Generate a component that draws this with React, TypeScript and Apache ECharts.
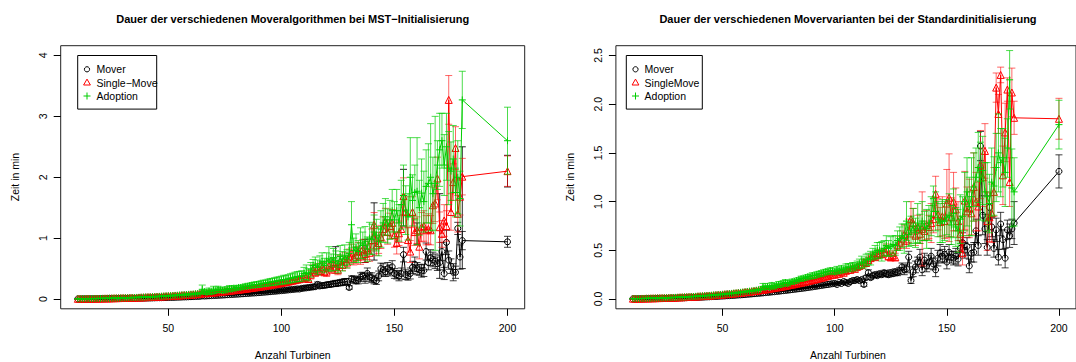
import React, { useEffect, useRef } from "react";
import * as echarts from "echarts";

// x values: number of turbines (10..180 and 200)
const TURBINES: number[] = [...Array.from({ length: 171 }, (_, i) => i + 10), 200];

// ---------- Left chart: MST-Initialisierung ----------
const L_MOVER = [
  .002,.002,.003,.003,.003,.004,.004,.004,.005,.005,
  .005,.006,.006,.007,.007,.008,.008,.009,.009,.010,
  .010,.011,.011,.012,.013,.013,.014,.015,.015,.016,
  .017,.017,.018,.019,.020,.021,.022,.023,.024,.025,
  .026,.027,.028,.029,.031,.032,.033,.035,.036,.038,
  .039,.041,.042,.044,.046,.052,.050,.052,.054,.056,
  .058,.060,.062,.064,.066,.068,.071,.073,.075,.078,
  .080,.082,.085,.087,.090,.092,.095,.098,.100,.103,
  .106,.109,.112,.115,.118,.121,.125,.128,.131,.135,
  .138,.142,.146,.150,.154,.158,.162,.166,.165,.175,
  .180,.184,.189,.194,.199,.204,.240,.215,.220,.226,
  .232,.238,.244,.250,.256,.262,.268,.275,.282,.288,
  .19,.33,.32,.30,.31,.36,.38,.34,.42,.36,
  .35,.32,.30,.38,.50,.48,.45,.50,.47,.53,
  .42,.40,.38,.42,.73,.40,.38,.42,.52,.57,
  .50,.48,.46,.47,.78,.60,.68,.65,.62,.58,
  .60,.78,.42,.93,.64,.54,.44,.44,1.16,.69,
  .96, .94,
];
const L_MOVER_ERR = [
  .001,.001,.001,.001,.001,.001,.001,.001,.001,.001,
  .001,.001,.001,.001,.001,.001,.001,.001,.001,.001,
  .002,.002,.002,.002,.002,.002,.002,.002,.002,.002,
  .002,.002,.002,.002,.002,.002,.002,.002,.002,.002,
  .003,.003,.003,.003,.003,.003,.003,.003,.003,.003,
  .004,.004,.004,.005,.005,.008,.005,.005,.006,.006,
  .006,.007,.007,.007,.008,.008,.008,.009,.009,.009,
  .010,.010,.011,.011,.012,.012,.013,.013,.014,.014,
  .015,.015,.016,.016,.017,.018,.018,.019,.020,.020,
  .021,.022,.022,.023,.024,.025,.025,.026,.027,.028,
  .03,.03,.03,.03,.035,.035,.04,.035,.04,.04,
  .04,.045,.04,.045,.05,.045,.05,.05,.055,.05,
  .03,.05,.06,.05,.06,.07,.06,.08,.09,.07,
  .08,.07,.06,.08,.09,.10,.08,.10,.09,.10,
  .08,.07,.08,.09,.12,.08,.07,.09,.10,.12,
  .10,.09,.10,.10,.14,.12,.13,.12,.12,.11,
  .12,.15,.10,.20,.15,.12,.14,.10,.10,.20,
  .15, .09,
];
// additional black error bars [x, low, high]
const L_MOVER_EXTRA: number[][] = [
  [124, 0.55, 0.86], [137, 0.6, 0.98], [141, 0.64, 1.58], [154, 1.2, 2.13],
  [160, 0.9, 1.25], [170, 0.34, 1.73], [180, 0.5, 2.5], [200, 1.84, 2.36],
];
const L_SINGLE = [
  .004,.004,.005,.005,.006,.006,.007,.007,.008,.009,
  .009,.010,.011,.011,.012,.013,.014,.015,.016,.017,
  .018,.019,.020,.021,.022,.024,.025,.026,.028,.029,
  .031,.032,.034,.036,.037,.039,.041,.043,.045,.047,
  .049,.051,.053,.056,.058,.060,.063,.065,.068,.071,
  .073,.076,.079,.082,.085,.100,.094,.097,.100,.104,
  .108,.111,.115,.119,.123,.127,.131,.135,.140,.144,
  .149,.153,.158,.163,.168,.173,.178,.183,.189,.194,
  .200,.206,.212,.218,.224,.230,.237,.243,.250,.257,
  .264,.271,.279,.286,.294,.302,.310,.318,.326,.335,
  .34,.36,.33,.40,.48,.44,.50,.46,.52,.45,
  .45,.55,.50,.58,.52,.48,.62,.56,.66,.60,
  .70,.75,.68,.72,.78,.70,.82,.74,.80,.76,
  .97,1.22,.88,.92,1.02,1.15,1.27,1.10,1.20,1.25,
  1.05,.92,1.08,1.15,1.69,1.43,.97,.78,1.43,1.10,
  1.13,.86,1.18,1.20,1.13,1.15,1.13,1.54,1.57,1.98,
  1.18,1.07,1.29,1.20,3.27,1.43,1.92,2.48,1.40,1.68,
  2.01, 2.10,
];
const L_SINGLE_ERR = [
  .001,.001,.001,.001,.001,.001,.001,.001,.001,.001,
  .002,.002,.002,.002,.002,.002,.002,.002,.002,.002,
  .003,.003,.003,.003,.003,.003,.003,.003,.003,.003,
  .004,.004,.004,.004,.004,.004,.004,.004,.004,.004,
  .005,.005,.006,.006,.006,.007,.007,.007,.008,.008,
  .008,.009,.009,.010,.010,.015,.011,.011,.012,.012,
  .013,.013,.014,.014,.015,.015,.016,.016,.017,.018,
  .018,.019,.020,.020,.021,.022,.023,.023,.024,.025,
  .026,.027,.028,.029,.030,.031,.032,.033,.034,.035,
  .036,.037,.038,.039,.040,.042,.043,.044,.045,.046,
  .05,.06,.05,.07,.08,.07,.08,.07,.08,.07,
  .08,.09,.08,.09,.10,.08,.10,.09,.10,.09,
  .12,.15,.12,.14,.15,.13,.16,.14,.15,.14,
  .18,.20,.16,.17,.19,.20,.22,.20,.21,.22,
  .20,.18,.20,.22,.30,.25,.20,.18,.25,.22,
  .22,.20,.24,.25,.24,.25,.24,.30,.30,.35,
  .25,.22,.26,.25,.40,.30,.30,.35,.30,.30,
  .30, .25,
];
const L_ADOPT = [
  .004,.005,.005,.006,.006,.007,.007,.008,.009,.009,
  .010,.011,.011,.012,.013,.014,.015,.016,.017,.018,
  .019,.020,.021,.023,.024,.025,.027,.028,.030,.031,
  .033,.035,.036,.038,.040,.042,.044,.046,.048,.051,
  .053,.055,.058,.060,.063,.066,.068,.071,.074,.077,
  .080,.083,.087,.090,.094,.16,.12,.11,.13,.12,
  .15,.14,.16,.15,.14,.15,.16,.17,.17,.18,
  .18,.19,.19,.20,.21,.21,.22,.23,.23,.24,
  .24,.25,.26,.26,.27,.28,.28,.29,.30,.30,
  .31,.32,.32,.33,.34,.35,.36,.37,.37,.38,
  .42,.44,.40,.48,.55,.56,.52,.58,.62,.55,
  .62,.66,.60,.68,.63,.58,.70,.62,.72,.66,
  .75,1.22,.80,.85,.78,.92,.88,.95,.82,1.00,
  .98,1.10,1.05,.95,1.15,1.25,1.35,1.20,1.30,1.45,
  1.30,1.45,1.25,1.55,1.70,1.46,1.35,2.00,1.62,1.75,
  1.77,1.50,1.74,1.60,1.85,1.90,2.00,1.73,1.90,2.20,
  2.45,2.60,2.20,2.50,2.15,2.10,2.30,1.75,2.00,1.65,
  3.27, 2.60,
];
const L_ADOPT_ERR = [
  .002,.002,.002,.002,.002,.002,.002,.002,.002,.002,
  .003,.003,.003,.003,.003,.003,.003,.003,.003,.003,
  .004,.004,.004,.004,.004,.004,.004,.004,.004,.004,
  .005,.005,.005,.005,.005,.005,.005,.005,.005,.005,
  .006,.006,.007,.007,.007,.008,.008,.009,.009,.010,
  .010,.011,.011,.012,.012,.07,.04,.03,.05,.04,
  .06,.04,.05,.04,.03,.05,.04,.05,.04,.04,
  .030,.030,.035,.035,.035,.040,.040,.040,.045,.045,
  .045,.050,.050,.050,.055,.055,.060,.060,.060,.065,
  .065,.070,.070,.070,.075,.075,.080,.080,.085,.085,
  .10,.12,.10,.12,.10,.13,.12,.13,.14,.12,
  .14,.20,.14,.15,.16,.15,.18,.16,.17,.15,
  .18,.38,.20,.22,.18,.25,.22,.24,.20,.26,
  .25,.28,.26,.24,.30,.32,.30,.28,.32,.35,
  .30,.35,.30,.40,.50,.40,.38,.65,.42,.45,
  .88,.45,.56,.50,.60,.65,.88,.60,1.10,.40,
  .60,.45,.50,.55,.60,.48,.55,.40,.60,.45,
  .47, .55,
];

// ---------- Right chart: Standardinitialisierung ----------
const R_MOVER = [
  .002,.002,.002,.003,.003,.003,.004,.004,.004,.005,
  .005,.006,.006,.007,.007,.008,.008,.009,.010,.010,
  .011,.012,.012,.013,.014,.015,.016,.016,.017,.018,
  .019,.020,.021,.022,.023,.025,.026,.027,.028,.030,
  .031,.032,.034,.035,.037,.038,.040,.042,.043,.045,
  .047,.049,.051,.053,.055,.057,.059,.061,.063,.066,
  .068,.070,.073,.075,.078,.080,.083,.086,.088,.091,
  .094,.097,.100,.103,.106,.109,.112,.115,.119,.122,
  .125,.129,.132,.136,.139,.143,.147,.150,.154,.158,
  .16,.15,.17,.16,.18,.17,.16,.18,.19,.19,
  .20,.19,.20,.15,.22,.27,.22,.24,.25,.24,
  .26,.25,.27,.26,.25,.27,.26,.28,.27,.29,
  .33,.30,.31,.43,.19,.28,.33,.38,.43,.30,
  .40,.34,.38,.44,.36,.30,.42,.47,.44,.46,
  .38,.48,.43,.42,.44,.41,.52,.58,.50,.54,
  .34,.47,.48,.70,.55,1.57,.86,.72,.53,.94,
  .74,.52,.71,.43,.77,.61,.42,.71,.65,.72,
  .78, 1.31,
];
const R_MOVER_ERR = [
  .001,.001,.001,.001,.001,.001,.001,.001,.001,.001,
  .001,.001,.001,.001,.001,.001,.001,.001,.001,.001,
  .002,.002,.002,.002,.002,.002,.002,.002,.002,.002,
  .002,.002,.002,.002,.002,.002,.002,.002,.002,.002,
  .003,.003,.003,.003,.003,.003,.003,.003,.003,.003,
  .004,.004,.004,.004,.004,.004,.004,.004,.004,.004,
  .005,.005,.005,.005,.005,.005,.005,.005,.005,.005,
  .006,.006,.006,.006,.006,.006,.006,.006,.006,.006,
  .008,.008,.008,.008,.008,.008,.008,.008,.008,.008,
  .010,.012,.010,.012,.014,.012,.014,.015,.014,.015,
  .016,.015,.016,.020,.020,.030,.020,.020,.025,.020,
  .025,.020,.025,.030,.025,.030,.025,.030,.030,.035,
  .04,.05,.04,.06,.03,.05,.06,.05,.08,.06,
  .07,.06,.07,.08,.06,.07,.08,.09,.07,.08,
  .07,.08,.06,.07,.08,.07,.08,.10,.08,.09,
  .07,.09,.10,.12,.10,.15,.20,.15,.08,.12,
  .10,.09,.12,.08,.12,.10,.10,.10,.12,.10,
  .22, .17,
];
const R_SINGLE = [
  .004,.004,.005,.005,.006,.006,.007,.007,.008,.008,
  .009,.010,.010,.011,.012,.013,.013,.014,.015,.016,
  .017,.018,.019,.020,.021,.022,.024,.025,.026,.028,
  .029,.031,.032,.034,.035,.037,.039,.041,.043,.045,
  .047,.049,.051,.053,.056,.058,.060,.063,.065,.068,
  .071,.073,.076,.079,.082,.085,.089,.092,.095,.099,
  .102,.106,.110,.114,.118,.122,.126,.130,.135,.139,
  .144,.148,.153,.158,.163,.168,.173,.178,.184,.189,
  .195,.200,.206,.212,.218,.224,.231,.237,.244,.250,
  .25,.26,.26,.28,.27,.29,.30,.30,.32,.31,
  .33,.34,.35,.38,.37,.40,.42,.44,.43,.45,
  .47,.46,.48,.52,.44,.43,.45,.43,.55,.58,
  .62,.66,.60,.70,.82,.78,.65,.74,.67,.72,
  .70,.76,.74,.78,.82,1.08,.87,.79,.85,.80,
  .98,1.04,.84,1.00,.92,.80,.67,.47,1.01,.90,
  .93,.88,1.15,1.00,.95,1.38,1.25,1.52,.80,.84,
  .88,1.10,2.17,1.90,2.30,1.27,1.71,2.15,1.20,2.12,
  1.86, 1.85,
];
const R_SINGLE_ERR = [
  .001,.001,.001,.001,.001,.001,.001,.001,.001,.001,
  .002,.002,.002,.002,.002,.002,.002,.002,.002,.002,
  .002,.002,.002,.002,.002,.002,.002,.002,.002,.002,
  .003,.003,.003,.003,.003,.003,.003,.003,.003,.003,
  .004,.004,.004,.004,.004,.004,.004,.004,.004,.004,
  .005,.005,.005,.005,.005,.005,.005,.005,.005,.005,
  .006,.006,.006,.006,.006,.006,.006,.006,.006,.006,
  .008,.008,.008,.008,.008,.008,.008,.008,.008,.008,
  .010,.010,.010,.010,.010,.010,.010,.010,.010,.010,
  .012,.013,.012,.014,.013,.015,.016,.015,.017,.016,
  .020,.020,.022,.025,.022,.030,.030,.035,.030,.035,
  .040,.035,.040,.045,.040,.040,.045,.040,.050,.060,
  .08,.10,.08,.12,.18,.15,.10,.12,.10,.38,
  .10,.15,.12,.20,.14,.18,.16,.15,.20,.18,
  .35,.45,.20,.30,.22,.20,.18,.12,.30,.25,
  .30,.22,.35,.30,.25,.35,.30,.28,.30,.25,
  .30,.25,.15,.20,.08,.30,.30,.12,.25,.25,
  .17, .21,
];
const R_ADOPT = [
  .004,.004,.005,.005,.006,.006,.007,.007,.008,.009,
  .009,.010,.011,.011,.012,.013,.014,.015,.016,.017,
  .018,.019,.020,.021,.022,.024,.025,.026,.028,.029,
  .031,.032,.034,.036,.037,.039,.041,.043,.045,.047,
  .049,.051,.054,.056,.058,.061,.063,.066,.069,.072,
  .075,.078,.081,.084,.088,.091,.095,.098,.13,.12,
  .13,.12,.14,.13,.14,.15,.15,.16,.17,.16,
  .17,.18,.18,.19,.20,.21,.21,.22,.23,.23,
  .24,.24,.25,.26,.26,.27,.28,.28,.29,.29,
  .28,.30,.29,.31,.30,.32,.33,.32,.34,.33,
  .35,.36,.38,.37,.40,.41,.42,.46,.48,.50,
  .50,.49,.52,.55,.52,.54,.56,.55,.60,.62,
  .65,.62,.80,.66,.70,.75,.68,.78,.72,.80,
  .75,.72,.78,.85,1.03,.90,.82,.78,.80,.80,
  .84,.86,.76,.88,.74,.70,.82,.85,1.00,1.10,
  .95,1.05,1.15,1.25,1.35,1.21,1.32,1.10,1.05,.98,
  1.20,1.16,1.35,1.50,1.40,1.45,1.30,1.55,2.25,1.14,
  1.10, 1.79,
];
const R_ADOPT_ERR = [
  .001,.001,.001,.001,.001,.001,.001,.001,.001,.001,
  .002,.002,.002,.002,.002,.002,.002,.002,.002,.002,
  .002,.002,.002,.002,.002,.002,.002,.002,.002,.002,
  .003,.003,.003,.003,.003,.003,.003,.003,.003,.003,
  .004,.004,.004,.004,.004,.004,.004,.004,.004,.004,
  .005,.005,.005,.006,.006,.006,.007,.007,.030,.020,
  .030,.020,.030,.025,.020,.030,.025,.030,.030,.025,
  .020,.025,.020,.025,.020,.025,.020,.025,.020,.025,
  .030,.025,.030,.025,.030,.030,.025,.030,.030,.030,
  .030,.035,.030,.035,.030,.040,.035,.040,.035,.040,
  .04,.05,.06,.05,.06,.06,.07,.06,.07,.08,
  .08,.10,.08,.10,.08,.10,.09,.10,.10,.12,
  .12,.15,.20,.12,.15,.18,.15,.20,.15,.20,
  .15,.20,.18,.20,.13,.20,.18,.20,.22,.20,
  .18,.22,.20,.25,.20,.22,.25,.20,.30,.35,
  .30,.40,.35,.30,.36,.40,.35,.30,.35,.30,
  .35,.30,.35,.40,.35,.30,.35,.30,.30,.40,
  .35, .25,
];

const X_TICKS = [50, 100, 150, 200];
const L_Y_TICKS = [0, 1, 2, 3, 4];
const R_Y_TICKS = [0, 0.5, 1, 1.5, 2, 2.5];

const TITLE_L = "Dauer der verschiedenen Moveralgorithmen bei MST\u2212Initialisierung";
const TITLE_R = "Dauer der verschiedenen Movervarianten bei der Standardinitialisierung";
const X_NAME = "Anzahl Turbinen";
const Y_NAME = "Zeit in min";
const LEG_L = ["Mover", "Single\u2212Move", "Adoption"];
const LEG_R = ["Mover", "SingleMove", "Adoption"];

const FONT = "'Liberation Sans', Arial, Helvetica, sans-serif";
const BLACK = "#000000";
const RED = "#FF0000";
const GREEN = "#00CD00";
const PLUS = "path://M0,5L10,5M5,0L5,10";

const pts = (vals: number[]) => TURBINES.map((x, i) => [x, vals[i]]);
const bars = (vals: number[], errs: number[]) =>
  TURBINES.map((x, i) => [x, vals[i] - errs[i], vals[i] + errs[i]]);

function lineSeries(data: number[][], color: string, symbol: string, size: number, gi: number, z: number) {
  return {
    type: "line",
    xAxisIndex: gi,
    yAxisIndex: gi,
    data,
    symbol,
    symbolSize: size,
    showSymbol: true,
    silent: true,
    z,
    itemStyle: { color: "rgba(0,0,0,0)", borderColor: color, borderWidth: 1 },
    lineStyle: { color, width: 1 },
    emphasis: { disabled: true },
  };
}

function barSeries(data: number[][], color: string, gi: number, z: number) {
  return {
    type: "custom",
    xAxisIndex: gi,
    yAxisIndex: gi,
    data,
    silent: true,
    z,
    encode: { x: 0, y: [1, 2] },
    renderItem: (_p: any, api: any) => {
      const x = api.value(0);
      const a = api.coord([x, api.value(1)]);
      const b = api.coord([x, api.value(2)]);
      const w = 3.5;
      const st = { stroke: color, lineWidth: 1, fill: null };
      return {
        type: "group",
        children: [
          { type: "line", shape: { x1: a[0], y1: a[1], x2: b[0], y2: b[1] }, style: st },
          { type: "line", shape: { x1: a[0] - w, y1: a[1], x2: a[0] + w, y2: a[1] }, style: st },
          { type: "line", shape: { x1: b[0] - w, y1: b[1], x2: b[0] + w, y2: b[1] }, style: st },
        ],
      };
    },
  };
}

function xAxis(gi: number) {
  return {
    gridIndex: gi,
    type: "value",
    min: 2.4,
    max: 207.6,
    axisLine: { show: false, onZero: false },
    splitLine: { show: false },
    axisTick: { show: true, length: 7, customValues: X_TICKS, lineStyle: { color: BLACK, width: 1 } },
    axisLabel: { customValues: X_TICKS, margin: 14, fontSize: 10.5, color: BLACK, fontFamily: FONT },
  };
}

function yAxis(gi: number, min: number, max: number, ticks: number[], dec: number) {
  return {
    gridIndex: gi,
    type: "value",
    min,
    max,
    axisLine: { show: false, onZero: false },
    splitLine: { show: false },
    axisTick: { show: true, length: 7, customValues: ticks, lineStyle: { color: BLACK, width: 1 } },
    axisLabel: {
      customValues: ticks,
      rotate: 90,
      margin: 12,
      fontSize: 10.5,
      color: BLACK,
      fontFamily: FONT,
      formatter: (v: number) => v.toFixed(dec),
    },
  };
}

function txt(text: string, x: number, y: number, size: number, opts: any = {}) {
  return {
    type: "text",
    x,
    y,
    rotation: opts.rotation || 0,
    silent: true,
    style: {
      text,
      font: `${opts.bold ? "bold " : ""}${size}px ${FONT}`,
      fill: BLACK,
      align: opts.align || "center",
      textAlign: opts.align || "center",
      verticalAlign: "middle",
      textVerticalAlign: "middle",
    },
  };
}

function legend(x0: number, w: number, symX: number, textX: number, labels: string[]) {
  const rows = [69.3, 82.7, 96];
  return [
    { type: "rect", shape: { x: x0, y: 55.5, width: w, height: 53.6 }, style: { fill: "#fff", stroke: BLACK, lineWidth: 1 }, silent: true },
    { type: "circle", shape: { cx: symX, cy: rows[0], r: 2.6 }, style: { fill: null, stroke: BLACK, lineWidth: 1 }, silent: true },
    {
      type: "polygon",
      shape: { points: [[symX, rows[1] - 3.6], [symX + 3.4, rows[1] + 2.3], [symX - 3.4, rows[1] + 2.3]] },
      style: { fill: null, stroke: RED, lineWidth: 1 },
      silent: true,
    },
    { type: "line", shape: { x1: symX - 3.5, y1: rows[2], x2: symX + 3.5, y2: rows[2] }, style: { stroke: GREEN, lineWidth: 1 }, silent: true },
    { type: "line", shape: { x1: symX, y1: rows[2] - 3.5, x2: symX, y2: rows[2] + 3.5 }, style: { stroke: GREEN, lineWidth: 1 }, silent: true },
    txt(labels[0], textX, rows[0], 10.5, { align: "left" }),
    txt(labels[1], textX, rows[1], 10.5, { align: "left" }),
    txt(labels[2], textX, rows[2], 10.5, { align: "left" }),
  ];
}

export default function App() {
  const ref = useRef<HTMLDivElement>(null);
  useEffect(() => {
    if (!ref.current) return;
    const chart = echarts.init(ref.current, null, { renderer: "svg" });
    const grids = [
      { left: 60.7, top: 45.7, width: 464, height: 263.1 },
      { left: 615.9, top: 45.7, width: 464, height: 263.1 },
    ].map((g) => ({ ...g, show: true, borderColor: "#222", borderWidth: 1, backgroundColor: "transparent", containLabel: false }));

    const option: any = {
      animation: false,
      backgroundColor: "#ffffff",
      grid: grids,
      xAxis: [xAxis(0), xAxis(1)],
      yAxis: [yAxis(0, -0.16, 4.16, L_Y_TICKS, 0), yAxis(1, -0.1, 2.6, R_Y_TICKS, 1)],
      series: [
        lineSeries(pts(L_MOVER), BLACK, "circle", 6, 0, 2),
        barSeries(bars(L_MOVER, L_MOVER_ERR), "rgba(0,0,0,0.75)", 0, 3),
        barSeries(L_MOVER_EXTRA, "rgba(0,0,0,0.85)", 0, 3),
        lineSeries(pts(L_SINGLE), RED, "triangle", 7, 0, 4),
        barSeries(bars(L_SINGLE, L_SINGLE_ERR), "rgba(255,0,0,0.6)", 0, 5),
        lineSeries(pts(L_ADOPT), GREEN, PLUS, 7, 0, 6),
        barSeries(bars(L_ADOPT, L_ADOPT_ERR), "rgba(0,205,0,0.7)", 0, 7),

        lineSeries(pts(R_MOVER), BLACK, "circle", 6, 1, 2),
        barSeries(bars(R_MOVER, R_MOVER_ERR), "rgba(0,0,0,0.75)", 1, 3),
        lineSeries(pts(R_SINGLE), RED, "triangle", 7, 1, 4),
        barSeries(bars(R_SINGLE, R_SINGLE_ERR), "rgba(255,0,0,0.6)", 1, 5),
        lineSeries(pts(R_ADOPT), GREEN, PLUS, 7, 1, 6),
        barSeries(bars(R_ADOPT, R_ADOPT_ERR), "rgba(0,205,0,0.7)", 1, 7),
      ],
      graphic: [
        txt(TITLE_L, 292.7, 18.5, 11, { bold: true }),
        txt(TITLE_R, 848, 18.5, 11, { bold: true }),
        txt(X_NAME, 292.7, 355, 10.5),
        txt(X_NAME, 848, 355, 10.5),
        txt(Y_NAME, 14.5, 177, 10.5, { rotation: Math.PI / 2 }),
        txt(Y_NAME, 569.5, 177, 10.5, { rotation: Math.PI / 2 }),
        ...legend(77.7, 79, 87, 96.5, LEG_L),
        ...legend(626.3, 76, 635.5, 644.6, LEG_R),
      ],
    };
    chart.setOption(option);
    return () => chart.dispose();
  }, []);
  return <div ref={ref} style={{ position: "absolute", left: 0, top: 0, width: 1076, height: 362 }} />;
}
